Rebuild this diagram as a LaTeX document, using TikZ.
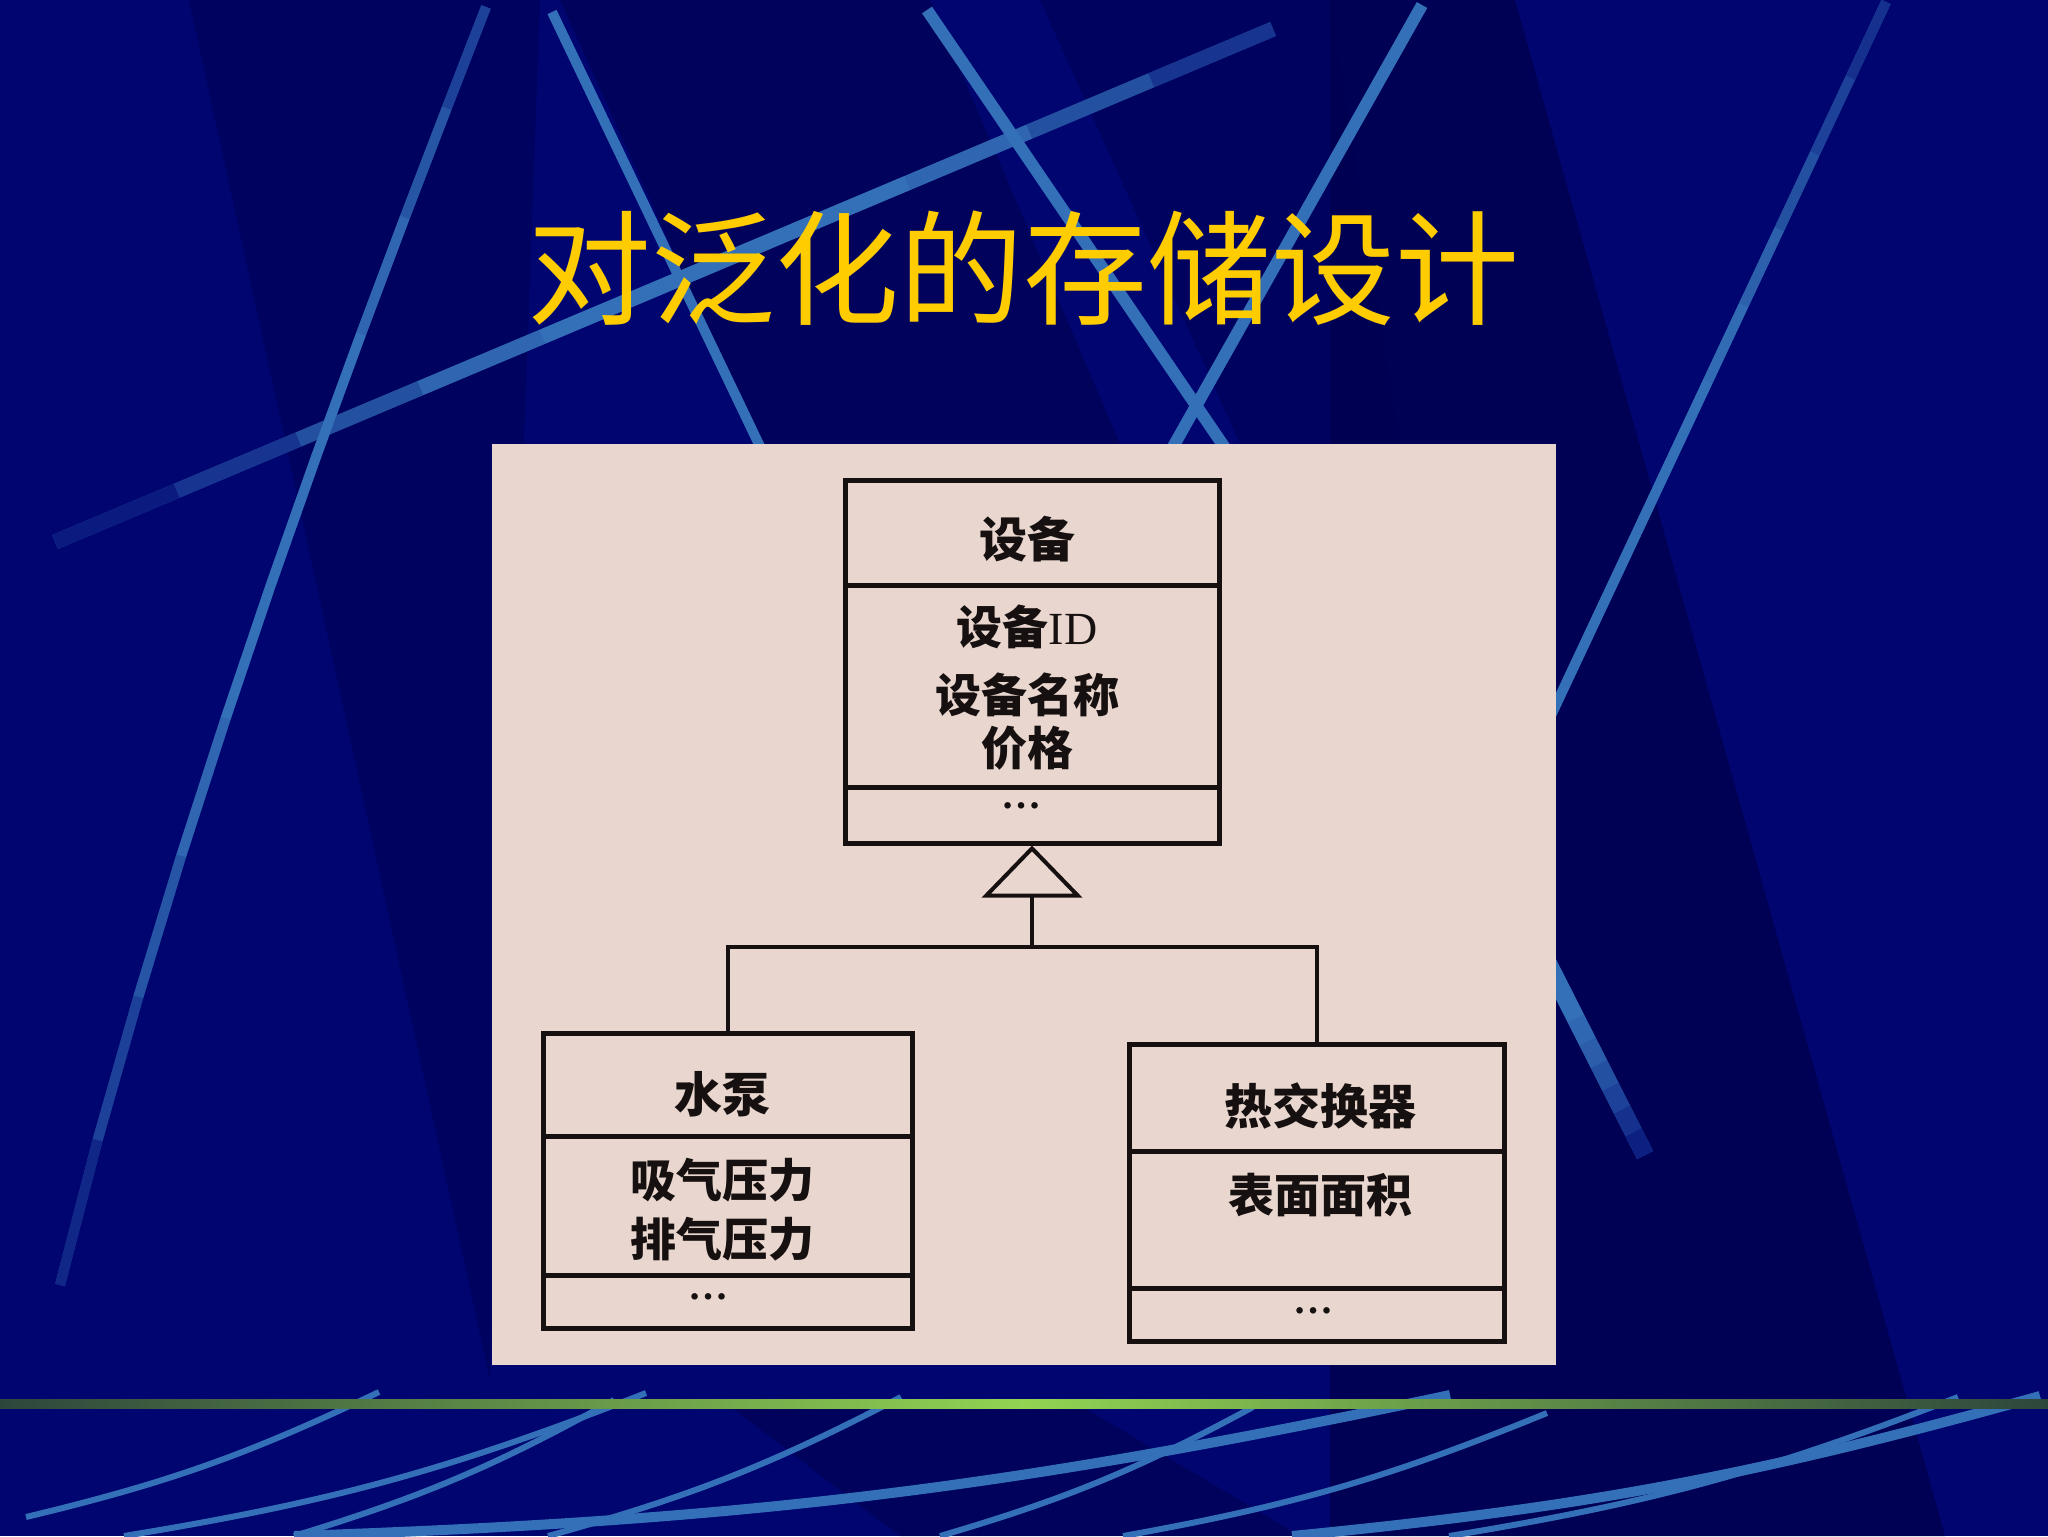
\documentclass[tikz,border=0pt]{standalone}
\usepackage{fontspec}
\setmainfont{Liberation Serif}
\newfontfamily\cjk{Noto Sans CJK SC}
\usetikzlibrary{arrows.meta,calc}
\definecolor{bgnavy}{RGB}{0,5,112}
\definecolor{bgdark}{RGB}{0,0,80}
\definecolor{streak}{RGB}{52,112,184}
\definecolor{gold}{RGB}{255,204,0}
\definecolor{paper}{RGB}{233,215,207}
\definecolor{ink}{RGB}{22,16,16}
\definecolor{greenedge}{RGB}{45,70,60}
\definecolor{greenmid}{RGB}{145,212,82}
% straight streak drawn in ten segments, #4 = ten brightness percentages
\newcommand\fadestreak[4]{%
  \foreach \pc [count=\k from 0] in {#4} {%
    \pgfmathsetmacro\ta{\k/10}\pgfmathsetmacro\tb{(\k+1)/10}%
    \draw[line width=#3, draw=streak!\pc!bgnavy] ($#1!\ta!#2$) -- ($#1!\tb!#2$);}}
\begin{document}
\begin{tikzpicture}[x=0.5pt,y=-0.5pt,
  streakline/.style={draw=streak, line cap=butt},
  compart/.style={draw=ink, line width=2.5pt, inner sep=0pt},
  cname/.style={font=\cjk\bfseries\fontsize{24pt}{28pt}\selectfont, text=ink, inner sep=0pt},
  cattr/.style={font=\cjk\bfseries\fontsize{23pt}{27pt}\selectfont, text=ink, inner sep=0pt},
  cdots/.style={font=\bfseries\fontsize{20pt}{22pt}\selectfont, text=ink, inner sep=0pt},
  conn/.style={draw=ink, line width=2pt},
  bline/.style={draw=streak, line width=3pt},
  bthick/.style={draw=streak, line width=5pt}]
\useasboundingbox (0,0) rectangle (2048,1536);
% background
\fill[bgnavy] (0,0) rectangle (2048,1536);
\fill[bgdark, opacity=0.5] (189,0) -- (540,0) -- (490,1380) -- cycle;
\fill[bgdark, opacity=0.6] (560,0) -- (930,0) -- (1120,444) -- (760,444) -- cycle;
\fill[bgdark, opacity=0.5] (1040,0) -- (1330,0) -- (1400,444) -- (1240,444) -- cycle;
\fill[bgdark, opacity=0.85] (1330,0) -- (1515,0) -- (1945,1536) -- (1330,1536) -- cycle;
\fill[bgdark, opacity=0.6] (731,1407) -- (1083,1407) -- (1300,1536) -- (900,1536) -- cycle;
% streaks
\draw[streakline, line width=7.5pt, draw=streak!70!bgnavy] (55,542) -- (1273,29);
\fadestreak{(55,542)}{(1273,29)}{7.5pt}{20,45,70,90,100,100,100,90,70,45}
\draw[streakline, line width=5pt, draw=streak!55!bgnavy, line join=round]
  (486,7) -- (446.7,108.2) -- (404.8,217.4) -- (361.1,333.8) -- (316.1,456.7) -- (270.8,585)
  -- (225.6,718.6) -- (181.1,856.2) -- (138.3,996.9) -- (97.6,1140.1) -- (60,1285);
\foreach \xa/\ya/\xb/\yb/\pc in {486/7/446.7/108.2/55, 446.7/108.2/404.8/217.4/75,
    404.8/217.4/361.1/333.8/90, 361.1/333.8/316.1/456.7/100, 316.1/456.7/270.8/585/100,
    270.8/585/225.6/718.6/100, 225.6/718.6/181.1/856.2/90, 181.1/856.2/138.3/996.9/75,
    138.3/996.9/97.6/1140.1/55, 97.6/1140.1/60/1285/32}
  \draw[line width=5pt, draw=streak!\pc!bgnavy] (\xa,\ya) -- (\xb,\yb);
\draw[streakline, line width=5pt] (552,12) -- (800,530);
\draw[streakline, line width=6pt] (927,10) -- (1240,470);
\draw[streakline, line width=6pt] (1422,5) -- (1160,470);
\draw[streakline, line width=5pt, draw=streak!75!bgnavy] (1886,2) -- (1530,760);
\fadestreak{(1886,2)}{(1530,760)}{5pt}{40,55,70,85,95,100,100,100,100,100}
\draw[streakline, line width=9pt, draw=streak!75!bgnavy] (1530,928) -- (1645,1155);
\fadestreak{(1530,928)}{(1645,1155)}{9pt}{100,100,100,100,92,82,70,55,40,25}
% bottom streaks
\draw[bline] (379,1392) to[bend left=6] (26,1517);
\draw[bline] (646,1393) to[bend left=6] (124,1536);
\draw[bline] (614,1400) to[bend left=6] (294,1536);
\draw[bline] (901,1397) to[bend left=6] (548,1536);
\draw[bline] (1253,1407) to[bend left=6] (940,1536);
\draw[bthick] (1450,1395) to[bend left=5] (294,1536);
\draw[bline] (1547,1413) to[bend left=6] (1123,1536);
\draw[bline] (1958,1397) to[bend left=6] (1449,1536);
\draw[bthick] (2040,1396) to[bend left=5] (1292,1536);
% green rule
\shade[left color=greenedge, right color=greenedge, middle color=greenmid] (0,1399) rectangle (2048,1408);
% title
\node[font=\cjk\fontsize{62pt}{70pt}\selectfont, text=gold, inner sep=0pt] (title) at (1023,268) {对泛化的存储设计};
% photo of the diagram
\fill[paper] (492,444) rectangle (1556,1365);
% class Device
\node[compart, minimum width=187pt, minimum height=52.5pt] (devname) at (1032,532.5) {};
\node[compart, minimum width=187pt, minimum height=101pt] (devattr) at (1032,686) {};
\node[compart, minimum width=187pt, minimum height=28pt] (devops) at (1032,815) {};
\node[cname] (devlbl) at (1027,539) {设备};
\node[cattr] (deva1) at (1027,627) {设备{\rmfamily\mdseries ID}};
\node[cattr] (deva2) at (1027,695) {设备名称};
\node[cattr] (deva3) at (1027,748) {价格};
\node[cdots] (devdots) at (1021,806) {…};
% class Pump
\node[compart, minimum width=184.5pt, minimum height=51.5pt] (pumpname) at (727.5,1084.5) {};
\node[compart, minimum width=184.5pt, minimum height=69.5pt] (pumpattr) at (727.5,1205.5) {};
\node[compart, minimum width=184.5pt, minimum height=26.5pt] (pumpops) at (727.5,1301.5) {};
\node[cname] (pumplbl) at (722,1094) {水泵};
\node[cattr] (pumpa1) at (722,1180) {吸气压力};
\node[cattr] (pumpa2) at (722,1239) {排气压力};
\node[cdots] (pumpdots) at (708,1297) {…};
% class Heat exchanger
\node[compart, minimum width=187.5pt, minimum height=53.5pt] (hexname) at (1316.5,1097.5) {};
\node[compart, minimum width=187.5pt, minimum height=68.5pt] (hexattr) at (1316.5,1219.5) {};
\node[compart, minimum width=187.5pt, minimum height=26.5pt] (hexops) at (1316.5,1314.5) {};
\node[cname] (hexlbl) at (1320,1106) {热交换器};
\node[cattr] (hexa1) at (1320,1195) {表面面积};
\node[cdots] (hexdots) at (1313,1311) {…};
% generalisation
\path (devops.south) ++(0,101) coordinate (junction);
\draw[conn, -{Triangle[open, length=26pt, width=50pt]}] (junction) -- (devops.south);
\draw[conn] (pumpname.north) |- (junction) -| (hexname.north);
\end{tikzpicture}
\end{document}
